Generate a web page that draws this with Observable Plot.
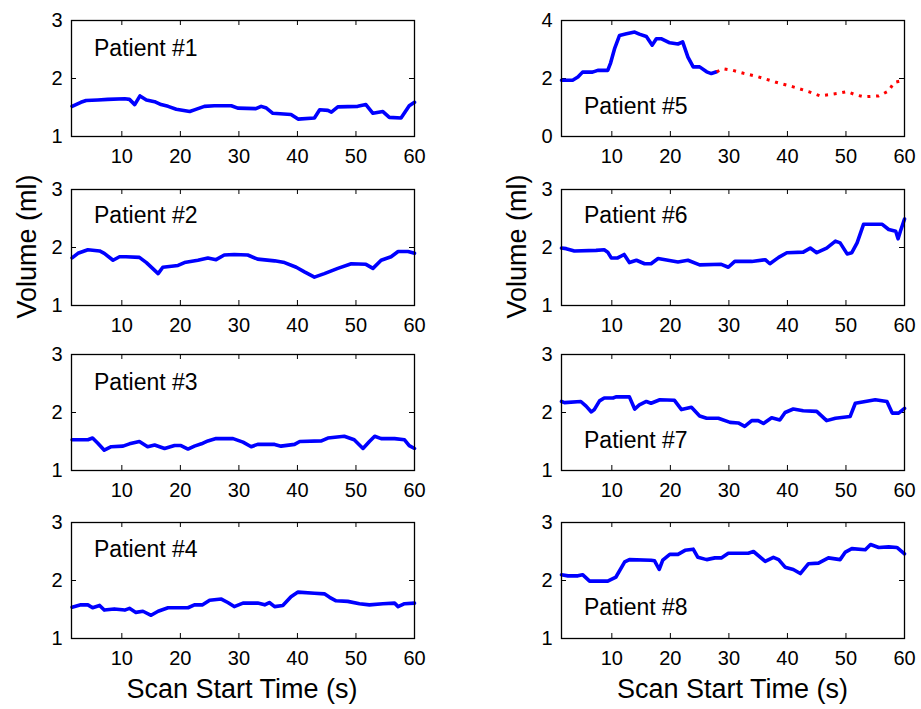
<!DOCTYPE html>
<html><head><meta charset="utf-8">
<script src="https://cdn.jsdelivr.net/npm/d3@7"></script>
<script src="https://cdn.jsdelivr.net/npm/@observablehq/plot@0.6"></script>
<style>
html,body{margin:0;padding:0;background:#fff;overflow:hidden}
#fig{position:relative;width:921px;height:709px;font-family:"Liberation Sans",Arial,Helvetica,sans-serif;color:#000;background:#fff}
.panel{position:absolute}
.lab{position:absolute;font-size:27px;line-height:27px;white-space:nowrap;text-align:center}
</style></head><body><div id="fig"></div>
<script>
// ---- data ----
const xTicks = [10, 20, 30, 40, 50, 60];
const yTicks = [1, 2, 3];
const yTicks5 = [0, 2, 4];
const patientNames = ["Patient #1","Patient #2","Patient #3","Patient #4","Patient #5","Patient #6","Patient #7","Patient #8"];

const p1T = [1.5,3,3.9,5.9,7.6,10.5,11.3,12.2,13.1,14.2,15.6,16.7,17.9,19.3,21.6,22.4,24.1,25.8,28.7,29.8,32.9,33.8,34.7,35.8,38.9,40.1,42.9,43.8,45.2,45.8,46.9,50.3,51.7,52.9,54.6,55.7,57.7,59.1,60];
const p1V = [1.52,1.59,1.62,1.63,1.64,1.65,1.64,1.55,1.70,1.63,1.60,1.55,1.52,1.47,1.43,1.46,1.52,1.53,1.53,1.49,1.48,1.52,1.49,1.40,1.38,1.30,1.32,1.46,1.45,1.42,1.51,1.52,1.55,1.40,1.43,1.33,1.32,1.53,1.59];

const p2T = [1.5,2.5,4.2,6.2,7,8.5,9.6,10.7,13,14.2,16.2,17,19.6,20.7,23,24.7,26.1,27.5,29.2,31.5,33.2,36.1,37.8,39.8,41.2,42.9,44.6,46.9,49.2,51.7,52.9,54.3,56,57.2,58.9,60];
const p2V = [1.82,1.90,1.96,1.94,1.90,1.78,1.84,1.84,1.83,1.74,1.55,1.66,1.69,1.74,1.78,1.82,1.79,1.87,1.88,1.87,1.80,1.77,1.74,1.66,1.58,1.49,1.55,1.64,1.72,1.71,1.64,1.78,1.84,1.93,1.93,1.90];

const p3T = [1.5,4.2,5,5.9,7,8.2,10.2,11.3,13,14.4,15.6,17.3,19,20.1,21.3,22.4,23.6,24.7,26.1,29,30.7,32.1,33.2,36.1,37.2,39.5,40.4,44.1,45.2,48,49.7,51.2,52.3,53.2,54.3,56.6,58.3,59.1,60];
const p3V = [1.53,1.53,1.56,1.47,1.35,1.41,1.42,1.46,1.50,1.41,1.44,1.38,1.43,1.43,1.37,1.42,1.46,1.51,1.55,1.55,1.49,1.41,1.45,1.45,1.42,1.45,1.50,1.51,1.56,1.59,1.53,1.38,1.50,1.59,1.55,1.55,1.53,1.43,1.38];

const p4T = [1.5,3,4.2,5,6.2,7,8.7,10.5,11.3,12.4,13.6,15,16.2,17.9,21.3,22.4,23.8,25,27,28.1,29.2,30.7,33.2,34.4,35.2,36.1,37.5,38.9,40.1,42.9,44.6,45.5,46.6,48.6,50.6,52.3,54.6,56.6,57.2,58.3,60];
const p4V = [1.54,1.58,1.58,1.53,1.57,1.49,1.51,1.49,1.52,1.45,1.47,1.40,1.47,1.53,1.53,1.58,1.58,1.66,1.68,1.62,1.55,1.61,1.61,1.58,1.62,1.55,1.57,1.72,1.80,1.78,1.77,1.71,1.65,1.64,1.60,1.58,1.60,1.61,1.55,1.60,1.61];

const p5T = [1.4,3.3,4.2,5,6.7,7.6,9.3,9.8,10.5,11.3,12.5,13.9,14.7,15.9,16.9,17.6,18.5,19.9,21.3,22.1,23,23.9,25,26.2,27,27.9];
const p5V = [1.94,1.94,2.05,2.22,2.22,2.28,2.28,2.54,3.05,3.48,3.54,3.60,3.53,3.45,3.15,3.37,3.37,3.23,3.19,3.26,2.74,2.40,2.40,2.23,2.17,2.23];
const p5RedT = [27.9,29,30.7,32.5,35,37.9,41,43.6,45.6,47,48.7,50.2,51.6,53,55.6,57.3,58.2,60];
const p5RedV = [2.23,2.34,2.28,2.18,2.06,1.88,1.71,1.55,1.40,1.44,1.49,1.55,1.44,1.37,1.40,1.57,1.86,1.95];

const p6T = [1.4,2.2,3.6,7.3,8.7,9.3,9.9,11,12.1,13,14.2,15.6,16.7,17.9,19.6,21.3,23,25,28.7,29.9,31,33.9,36.2,37,38.5,39.9,42.7,43.9,45,46.7,48.2,49,50.2,51,51.9,53,56.2,57.3,58.5,58.9,59.3,60];
const p6V = [1.99,1.98,1.94,1.95,1.96,1.92,1.82,1.82,1.88,1.74,1.78,1.72,1.72,1.81,1.78,1.75,1.78,1.70,1.71,1.66,1.76,1.76,1.79,1.72,1.83,1.91,1.92,1.99,1.91,1.99,2.11,2.08,1.89,1.91,2.08,2.40,2.40,2.31,2.28,2.15,2.28,2.49];

const p7T = [1.4,1.9,4.7,5.6,6.5,7,7.9,8.7,10.2,10.7,13,13.9,14.7,15.9,16.7,18.2,20.7,21.9,23.6,25,26.2,28.2,30.2,31.6,32.7,33.9,35,35.9,37.3,38.7,39.6,41,42.7,45,46.7,48.2,50.7,51.6,53.3,55,57,57.9,59,60];
const p7V = [2.19,2.17,2.19,2.11,2.01,2.05,2.20,2.25,2.25,2.27,2.27,2.06,2.13,2.19,2.16,2.22,2.21,2.05,2.09,1.94,1.90,1.90,1.83,1.82,1.76,1.86,1.86,1.81,1.91,1.87,2.00,2.06,2.03,2.02,1.86,1.90,1.93,2.16,2.19,2.22,2.19,1.99,1.99,2.07];

const p8T = [1.4,2.5,4.2,5,6.2,9.3,10.7,12.2,13,16.7,17.3,18.1,18.7,19.9,21.3,22.5,23.9,24.7,26.2,27.6,28.7,29.9,33.3,34.2,36.2,37.6,38.5,39.6,41,42.2,43.6,45.3,47,49,49.9,51,53.3,54.2,55.6,57.3,58.7,60];
const p8V = [2.10,2.08,2.08,2.10,1.99,1.99,2.06,2.32,2.36,2.35,2.34,2.19,2.35,2.45,2.45,2.52,2.54,2.40,2.36,2.39,2.39,2.47,2.47,2.50,2.33,2.40,2.36,2.23,2.19,2.12,2.29,2.30,2.39,2.36,2.49,2.55,2.53,2.62,2.57,2.58,2.57,2.46];

// ---- layout ----
const FW = 343, FH = 116, ML = 42, MR = 14, MT = 10, MB = 36;
const XDOMAIN = [1.4, 60];
const FONT = '"Liberation Sans", Arial, Helvetica, sans-serif';
const fig = document.getElementById("fig");

const panels = [
  {name: patientNames[0], t: p1T, v: p1V, left: 70.5, top: 20, yd: [1,3], yt: yTicks, dy: 28},
  {name: patientNames[1], t: p2T, v: p2V, left: 70.5, top: 189, yd: [1,3], yt: yTicks, dy: 26},
  {name: patientNames[2], t: p3T, v: p3V, left: 70.5, top: 354, yd: [1,3], yt: yTicks, dy: 28.5},
  {name: patientNames[3], t: p4T, v: p4V, left: 70.5, top: 522, yd: [1,3], yt: yTicks, dy: 27.5},
  {name: patientNames[4], t: p5T, v: p5V, left: 561, top: 19.5, yd: [0,4], yt: yTicks5, dy: 86, red: true},
  {name: patientNames[5], t: p6T, v: p6V, left: 561, top: 188.5, yd: [1,3], yt: yTicks, dy: 26.5},
  {name: patientNames[6], t: p7T, v: p7V, left: 561, top: 354, yd: [1,3], yt: yTicks, dy: 86.5},
  {name: patientNames[7], t: p8T, v: p8V, left: 561, top: 522, yd: [1,3], yt: yTicks, dy: 85.5}
];

for (const cfg of panels) {
  const rows = cfg.t.map((t, i) => ({t, v: cfg.v[i]}));
  const marks = [
    Plot.tickX(xTicks, {x: d => d, insetTop: FH - 5, stroke: "black"}),
    Plot.tickX(xTicks, {x: d => d, insetBottom: FH - 5, stroke: "black"}),
    Plot.tickY(cfg.yt, {y: d => d, insetRight: FW - 5, stroke: "black"}),
    Plot.tickY(cfg.yt, {y: d => d, insetLeft: FW - 5, stroke: "black"}),
    Plot.axisX({ticks: xTicks, tickSize: 0, tickPadding: 12, label: null, tickFormat: d3.format("d")}),
    Plot.axisY({ticks: cfg.yt, tickSize: 0, tickPadding: 9, label: null, tickFormat: d3.format("d")}),
    Plot.line(rows, {x: "t", y: "v", stroke: "#0000ff", strokeWidth: 3.6, strokeLinejoin: "round"})
  ];
  if (cfg.red) {
    const redRows = p5RedT.map((t, i) => ({t, v: p5RedV[i]}));
    marks.push(Plot.line(redRows, {x: "t", y: "v", stroke: "#ff0000", strokeWidth: 3, strokeDasharray: "3,5.7", strokeLinecap: "butt"}));
  }
  marks.push(
    Plot.frame({stroke: "black", strokeWidth: 1.3}),
    Plot.text([cfg.name], {frameAnchor: "top-left", dx: 22.5, dy: cfg.dy, text: d => d, textAnchor: "start", lineAnchor: "middle", fontSize: 23, fill: "black"})
  );
  const svg = Plot.plot({
    width: FW + ML + MR, height: FH + MT + MB,
    marginLeft: ML, marginRight: MR, marginTop: MT, marginBottom: MB,
    x: {domain: XDOMAIN, label: null},
    y: {domain: cfg.yd, label: null},
    style: {fontSize: "20px", fontFamily: FONT, background: "transparent", color: "black", overflow: "visible"},
    marks
  });
  svg.classList.add("panel");
  svg.style.left = (cfg.left - ML) + "px";
  svg.style.top = (cfg.top - MT) + "px";
  fig.appendChild(svg);
}

// axis titles
function label(text, cx, cy, rotate) {
  const d = document.createElement("div");
  d.className = "lab";
  d.textContent = text;
  const w = 260;
  d.style.width = w + "px";
  d.style.left = (cx - w / 2) + "px";
  d.style.top = (cy - 13.5) + "px";
  if (rotate) d.style.transform = "rotate(-90deg)";
  fig.appendChild(d);
}
label("Scan Start Time (s)", 242, 689, false);
label("Scan Start Time (s)", 732.5, 689, false);
label("Volume (ml)", 27, 246.5, true);
label("Volume (ml)", 517, 246.5, true);
</script></body></html>
